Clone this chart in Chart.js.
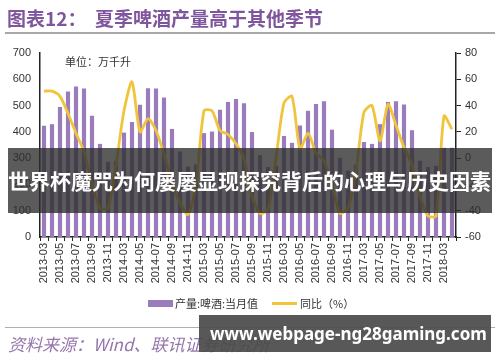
<!DOCTYPE html>
<html>
<head>
<meta charset="utf-8">
<script src="https://cdn.jsdelivr.net/npm/chart.js@4"></script>
<style>
  body { margin: 0; background: #fff; }
  #wrap { position: relative; width: 500px; height: 362px; overflow: hidden; font-family: "Noto Sans CJK SC", sans-serif; }
  canvas { position: absolute; left: 0; top: 0; }
  .txt { position: absolute; white-space: nowrap; }
</style>
</head>
<body>
<div id="wrap">
  <canvas id="grafico" width="500" height="362"></canvas>
  <div class="txt" style="left:7px;top:4px;font-size:19px;font-weight:bold;color:#7f569e;">图表12：&nbsp;&nbsp;夏季啤酒产量高于其他季节</div>
  <div style="position:absolute;left:5px;top:32px;width:490px;height:2px;background:#a8a8a8;"></div>
  <div class="txt" style="left:65px;top:53px;font-size:11px;color:#333;">单位：万千升</div>
  <div style="position:absolute;left:148px;top:300px;width:25px;height:7px;background:#9a7cbd;"></div>
  <div class="txt" style="left:175px;top:295px;font-size:11px;color:#333;">产量:啤酒:当月值</div>
  <div style="position:absolute;left:272px;top:302px;width:25px;height:3px;background:#f0c53c;"></div>
  <div class="txt" style="left:300px;top:295px;font-size:11px;color:#333;">同比（%）</div>
  <div style="position:absolute;left:5px;top:327px;width:490px;height:1px;background:#b0b0b0;"></div>
  <div class="txt" style="left:8px;top:331px;font-size:17px;font-style:italic;color:#9677ad;">资料来源：Wind、联讯证券研究所</div>
  <!-- faixas por cima -->
  <div style="position:absolute;left:8px;top:148px;width:484px;height:65px;background:rgba(45,45,45,0.78);"></div>
  <div class="txt" style="left:8px;top:165px;font-size:21px;font-weight:bold;color:#fff;">世界杯魔咒为何屡屡显现探究背后的心理与历史因素</div>
  <div style="position:absolute;left:199px;top:315px;width:292px;height:37px;background:rgba(75,75,75,0.93);"></div>
  <div class="txt" style="left:210px;top:322px;font-size:17px;font-weight:bold;color:#fff;font-family:'Noto Sans',sans-serif;">www.webpage-ng28gaming.com</div>
</div>
<script>
// meses (jan/fev não aparecem)
const categorias = [
  '2013-03','2013-04','2013-05','2013-06','2013-07','2013-08','2013-09','2013-10','2013-11','2013-12',
  '2014-03','2014-04','2014-05','2014-06','2014-07','2014-08','2014-09','2014-10','2014-11','2014-12',
  '2015-03','2015-04','2015-05','2015-06','2015-07','2015-08','2015-09','2015-10','2015-11','2015-12',
  '2016-03','2016-04','2016-05','2016-06','2016-07','2016-08','2016-09','2016-10','2016-11','2016-12',
  '2017-03','2017-04','2017-05','2017-06','2017-07','2017-08','2017-09','2017-10','2017-11','2017-12',
  '2018-03','2018-04'
];
// produção mensal (万千升)
const producao = [
  422, 428, 493, 552, 571, 564, 460, 353, 285, 288,
  396, 436, 502, 565, 564, 529, 410, 324, 267, 275,
  394, 400, 483, 512, 524, 508, 398, 310, 265, 270,
  383, 357, 423, 479, 505, 515, 407, 300, 251, 274,
  360, 353, 428, 512, 515, 503, 405, 289, 265, 270,
  338, 338
];
// variação anual (%)
const yoy = [
  51, 51, 47, 34, 19, 5, -20, -38, -38, -5,
  36, 58, 20, 30, 21, 3, -19, -34, -43, -20,
  36, 36, 21, 18, 11, 0, -29, -42, -39, 0,
  42, 47, 7, 19, 4, -2, -21, -42, -38, -10,
  35, 40, 13, 41, 25, 8, -5, -29, -44, -44,
  32, 22
];
const ticksEsq = [0, 100, 200, 300, 400, 500, 600, 700];
const ticksDir = [-60, -40, -20, 0, 20, 40, 60, 80];

Chart.defaults.font.family = '"Liberation Sans", "Noto Sans CJK SC", sans-serif';
Chart.defaults.color = '#333';

const ctx = document.getElementById('grafico').getContext('2d');
window.grafico = new Chart(ctx, {
  data: {
    labels: categorias,
    datasets: [
      {
        type: 'line',
        label: '同比（%）',
        data: yoy,
        yAxisID: 'y2',
        borderColor: '#f0c53c',
        borderWidth: 2.8,
        pointRadius: 0,
        tension: 0.25,
        order: 0
      },
      {
        type: 'bar',
        label: '产量:啤酒:当月值',
        data: producao,
        yAxisID: 'y',
        backgroundColor: '#9a7cbd',
        barThickness: 3.5,
        order: 1
      }
    ]
  },
  options: {
    responsive: false,
    animation: false,
    layout: { padding: { left: 0, right: 0, top: 53, bottom: 65 } },
    plugins: { legend: { display: false }, tooltip: { enabled: false } },
    scales: {
      x: {
        grid: { drawOnChartArea: false, drawTicks: true, tickLength: 4, color: '#222' },
        border: { color: '#222', width: 1.5 },
        ticks: {
          autoSkip: false, minRotation: 90, maxRotation: 90, padding: 2,
          font: { size: 11 }, color: '#333',
          callback: function(v, i) { return i % 2 === 0 ? categorias[i] : ''; }
        },
        afterFit: function(s) { s.height = 60; }
      },
      y: {
        position: 'left',
        min: 0, max: 700,
        afterBuildTicks: function(s) { s.ticks = ticksEsq.map(v => ({ value: v })); },
        grid: { display: false, drawTicks: false },
        border: { color: '#222', width: 1.5 },
        ticks: { padding: 9, font: { size: 11 }, color: '#333' },
        afterFit: function(s) { s.width = 40; }
      },
      y2: {
        position: 'right',
        min: -60, max: 80,
        afterBuildTicks: function(s) { s.ticks = ticksDir.map(v => ({ value: v })); },
        grid: { drawOnChartArea: false, drawTicks: true, tickLength: 5, color: '#222' },
        border: { color: '#222', width: 1.5 },
        ticks: { padding: 4, font: { size: 11 }, color: '#333' },
        afterFit: function(s) { s.width = 44; }
      }
    }
  }
});
</script>
</body>
</html>
